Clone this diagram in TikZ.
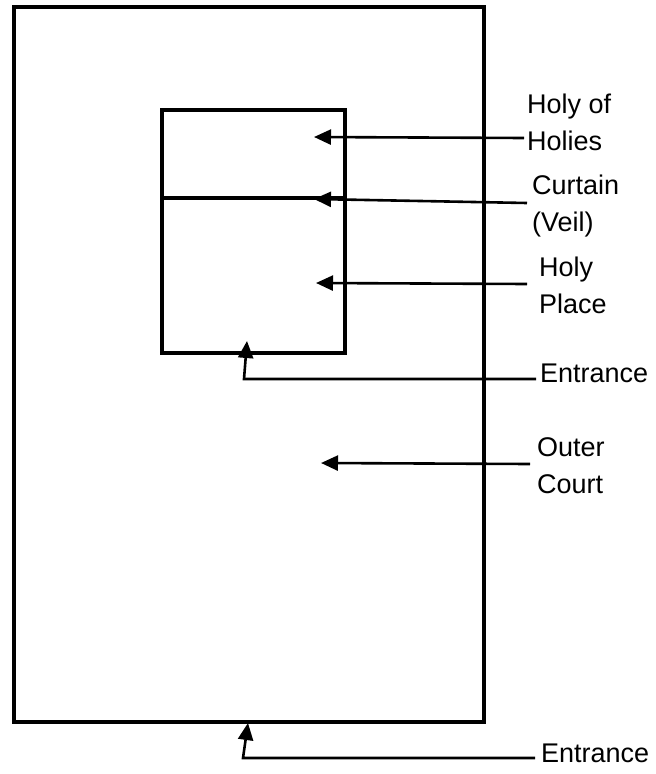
\documentclass[tikz,border=0pt]{standalone}
\usepackage{fontspec}
\setmainfont{Liberation Sans}
\usetikzlibrary{arrows.meta}
\begin{document}
\begin{tikzpicture}[x=1pt,y=-1pt,
  wall/.style={draw=black,line width=3.2pt},
  arr/.style={draw=black,line width=2.6pt,-{Triangle[length=17pt,width=15pt]}},
  lbl/.style={inner sep=0pt,anchor=base west,align=left,font=\fontsize{27}{37}\selectfont}]
\useasboundingbox (0,0) rectangle (656,774);
% walls
\draw[wall] (14,7) rectangle (484,722);
\draw[wall] (162,110) rectangle (345,353);
\draw[wall] (162,198) -- (345,198);
% labels (anchor = baseline of the last line)
\node[lbl] (hoh) at (527,150) {Holy of\\Holies};
\node[lbl] (cur) at (532,231) {Curtain\\(Veil)};
\node[lbl] (hp) at (539,313) {Holy\\Place};
\node[lbl] (ent1) at (540,382) {Entrance};
\node[lbl] (oc) at (537,493) {Outer\\Court};
\node[lbl] (ent2) at (541,762) {Entrance};
% arrow coordinates
\coordinate (a1s) at (524,138); \coordinate (a1t) at (314,137);
\coordinate (a2s) at (527,203); \coordinate (a2t) at (314,199);
\coordinate (a3s) at (527,284); \coordinate (a3t) at (316,283);
\coordinate (a4s) at (536,379); \coordinate (a4c) at (244,379); \coordinate (a4t) at (247,341);
\coordinate (a5s) at (530,464); \coordinate (a5t) at (321,463);
\coordinate (a6s) at (535,758); \coordinate (a6c) at (243,758); \coordinate (a6t) at (248,723);
% arrows
\draw[arr] (a1s) -- (a1t);
\draw[arr] (a2s) -- (a2t);
\draw[arr] (a3s) -- (a3t);
\draw[arr] (a4s) -- (a4c) -- (a4t);
\draw[arr] (a5s) -- (a5t);
\draw[arr] (a6s) -- (a6c) -- (a6t);
\end{tikzpicture}
\end{document}
